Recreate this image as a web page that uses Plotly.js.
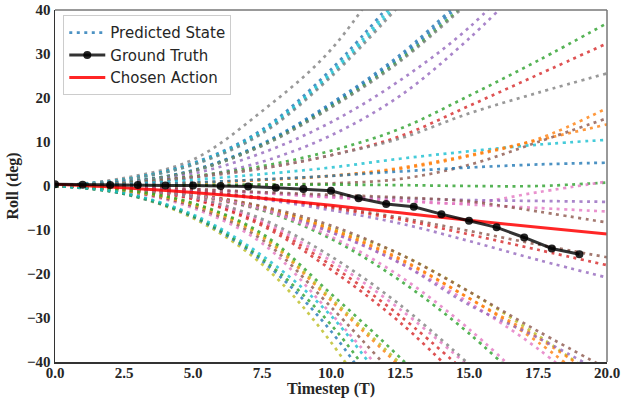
<!DOCTYPE html>
<html>
<head>
<meta charset="utf-8">
<script src="https://cdn.plot.ly/plotly-3.0.1.min.js"></script>
<style>
  html, body { margin: 0; padding: 0; background: #fff; }
  #chart { width: 621px; height: 398px; }
</style>
</head>
<body>
<div id="chart"></div>
<script>
// ---------- data ----------
// timesteps at which the predicted-state curves are sampled
const predT = [0, 2.5, 5, 7.5, 10, 12.5, 15, 17.5, 20];

// predicted roll trajectories (deg); shorter arrays leave the plot at +/-40
const predGrayTop  = [0, 1.8, 6.0, 17.0, 31.0, 53.0];
const predBlueB1   = [0, 1.5, 5.2, 12.8, 26.5, 44.0];
const predCyanB2   = [0, 1.5, 5.0, 12.4, 25.8, 43.0];
const predCyanB3   = [0, 1.4, 4.9, 12.1, 25.2, 42.0];
const predGrayB4   = [0, 1.4, 4.8, 11.9, 24.8, 41.2];
const predBlueC1   = [0, 0.9, 3.6, 9.6, 18.8, 29.8, 44.0];
const predBlueC2   = [0, 0.9, 3.5, 9.4, 18.4, 29.2, 43.2];
const predGreenC3  = [0, 0.8, 3.4, 9.2, 18.0, 28.6, 42.2];
const predGrayC4   = [0, 0.8, 3.4, 9.1, 17.8, 28.3, 41.8];
const predPurple1  = [0, 0.7, 2.8, 7.5, 14.5, 24.0, 36.0, 52.0];
const predPurple2  = [0, 0.5, 2.0, 5.5, 11.5, 20.5, 33.5, 49.0];
const predGreenE   = [0, 0.6, 2.2, 4.5, 8.0, 13.0, 20.5, 28.5, 37.0];
const predRedE     = [0, 0.5, 2.0, 4.0, 7.0, 11.3, 18.2, 25.3, 32.4];
const predGrayE    = [0, 0.5, 2.0, 4.0, 7.0, 10.8, 16.5, 21.2, 25.6];
const predCyanF    = [0, 0.4, 1.4, 2.7, 4.2, 6.2, 7.9, 9.4, 10.5];
const predOrange1  = [0, 0.2, 0.7, 1.4, 2.3, 3.9, 6.8, 10.7, 17.7];
const predOrange2  = [0, 0.2, 0.7, 1.4, 2.3, 4.1, 7.0, 10.4, 14.0];
const predBrown1   = [0, 0.0, 0.1, 0.3, 0.6, 1.6, 4.8, 10.0, 15.4];
const predBlueF    = [0, 0.3, 0.8, 1.5, 2.3, 3.3, 4.2, 4.9, 5.3];
const predGreen0   = [0, 0.0, 0.2, 0.3, 0.3, 0.2, 0.0, 0.0, 0.8];
const predPink1    = [0, -0.2, -0.8, -1.6, -2.6, -3.4, -3.9, -1.4, 1.0];
const predPurpleF  = [0, -0.2, -0.8, -1.5, -2.3, -2.8, -3.2, -3.4, -3.6];
const predPink2    = [0, -0.2, -0.8, -1.6, -2.5, -3.3, -4.2, -5.0, -5.8];
const predBrown2   = [0, -0.2, -0.7, -1.4, -2.0, -2.6, -3.5, -5.8, -8.3];
const predBrown3   = [0, -0.3, -1.1, -2.6, -4.7, -7.2, -10.2, -13.3, -16.2];
const predRed3     = [0, -0.3, -1.2, -2.8, -5.0, -7.6, -11.0, -14.5, -18.0];
const predPurple3  = [0, -0.3, -1.3, -3.0, -5.5, -8.5, -12.5, -16.8, -20.8];
const predPink5    = [0, -0.6, -2.3, -5.5, -10.5, -17.5, -26.5, -37.0, -50.0];
const predOrange5  = [0, -0.6, -2.2, -5.2, -10.0, -16.8, -25.5, -35.5, -48.0];
const predOlive5   = [0, -0.5, -2.0, -4.8, -9.5, -15.5, -24.0, -34.0, -45.0];
const predOrange5b = [0, -0.5, -2.0, -4.8, -9.8, -16.5, -25.5, -34.5, -45.0];
const predPurple5  = [0, -0.5, -2.1, -5.2, -10.5, -17.5, -27.0, -34.5, -43.0];
const predBrown5   = [0, -0.5, -1.9, -4.6, -9.0, -15.5, -24.0, -33.0, -41.5];
const predGreen4   = [0, -0.5, -2.0, -5.5, -12.0, -21.5, -33.5, -48.0];
const predPink4    = [0, -0.5, -2.0, -5.3, -11.5, -20.5, -32.5, -47.0];
const predRed1     = [0, -0.8, -3.0, -9.0, -19.0, -31.0, -46.0];
const predRed2     = [0, -0.8, -2.8, -8.5, -18.0, -29.5, -43.0];
const predPink3    = [0, -0.7, -2.6, -8.0, -17.0, -28.0, -41.0];
const predGray3    = [0, -0.7, -2.5, -7.5, -16.0, -27.0, -40.5];
const predPinkR    = [0, -1.2, -5.0, -13.0, -29.0, -47.0];
const predBrownR   = [0, -1.1, -4.6, -12.2, -27.5, -44.5];
const predOrangeR  = [0, -1.0, -4.2, -11.5, -26.0, -41.0];
const predOliveR   = [0, -1.0, -4.0, -11.2, -25.5, -40.3];
const predGreenR   = [0, -0.9, -3.9, -10.8, -24.5, -39.0, -55.0];
const predOliveB   = [0, -1.8, -7.3, -17.8, -35.5, -60.0];
const predBlueB    = [0, -1.8, -7.0, -17.0, -33.0, -56.0];
const predGreenB   = [0, -1.7, -6.8, -16.5, -31.5, -53.0];
const predCyanB    = [0, -1.6, -6.5, -15.8, -29.5, -50.0];

const predSeries = [
  predGrayTop, predBlueB1, predCyanB2, predCyanB3, predGrayB4,
  predBlueC1, predBlueC2, predGreenC3, predGrayC4, predPurple1, predPurple2,
  predGreenE, predRedE, predGrayE, predCyanF, predOrange1, predOrange2,
  predBrown1, predBlueF, predGreen0, predPink1, predPurpleF, predPink2,
  predBrown2, predBrown3, predRed3, predPurple3, predPink5, predOrange5,
  predOlive5, predOrange5b, predPurple5, predBrown5, predGreen4, predPink4,
  predRed1, predRed2, predPink3, predGray3, predPinkR, predBrownR,
  predOrangeR, predOliveR, predGreenR, predOliveB, predBlueB, predGreenB, predCyanB
];

// ground truth roll at each timestep
const gtT    = [0, 1, 2, 3, 4, 5, 6, 7, 8, 9, 10, 11, 12, 13, 14, 15, 16, 17, 18, 19];
const gtRoll = [0.4, 0.3, 0.2, 0.2, 0.1, 0.1, 0.0, -0.1, -0.4, -0.7, -1.1,
                -2.8, -4.1, -4.7, -6.4, -7.9, -9.4, -11.7, -14.2, -15.5];

// chosen action trajectory
const actT    = [0, 2.5, 5, 7.5, 10, 12.5, 15, 17.5, 20];
const actRoll = [0.4, -0.4, -1.5, -2.8, -4.4, -6.1, -7.8, -9.4, -10.9];

// x tick labels
const xTickVals = [0, 2.5, 5, 7.5, 10, 12.5, 15, 17.5, 20];

// ---------- styles ----------
const tab = {
  blue: '#1f77b4', orange: '#ff7f0e', green: '#2ca02c', red: '#d62728',
  purple: '#9467bd', brown: '#8c564b', pink: '#e377c2', gray: '#7f7f7f',
  olive: '#bcbd22', cyan: '#17becf'
};
const predColorNames = [
  'gray', 'blue', 'cyan', 'cyan', 'gray',
  'blue', 'blue', 'green', 'gray', 'purple', 'purple',
  'green', 'red', 'gray', 'cyan', 'orange', 'orange',
  'brown', 'blue', 'green', 'pink', 'purple', 'pink',
  'brown', 'brown', 'red', 'purple', 'pink', 'orange',
  'olive', 'orange', 'purple', 'brown', 'green', 'pink',
  'red', 'red', 'pink', 'gray', 'pink', 'brown',
  'orange', 'olive', 'green', 'olive', 'blue', 'green', 'cyan'
];

const traces = [];
predSeries.forEach((vals, i) => {
  traces.push({
    x: predT.slice(0, vals.length),
    y: vals,
    type: 'scatter',
    mode: 'lines',
    line: { color: tab[predColorNames[i]], width: 2.7, dash: '3px,4.5px', shape: 'spline', smoothing: 1 },
    opacity: 0.8,
    name: 'Predicted State',
    showlegend: false,
    hoverinfo: 'skip'
  });
});
// legend entry for predicted state
traces.push({
  x: [null], y: [null], type: 'scatter', mode: 'lines',
  line: { color: tab.blue, width: 2.7, dash: '3px,4.5px' }, opacity: 0.8,
  name: 'Predicted State', legendrank: 1
});
traces.push({
  x: actT, y: actRoll, type: 'scatter', mode: 'lines',
  line: { color: 'rgba(255,0,0,0.85)', width: 3, shape: 'spline' },
  name: 'Chosen Action', legendrank: 3
});
traces.push({
  x: gtT, y: gtRoll, type: 'scatter', mode: 'lines+markers',
  line: { color: 'rgba(0,0,0,0.8)', width: 3 },
  marker: { color: 'rgba(0,0,0,0.85)', size: 8 },
  name: 'Ground Truth', legendrank: 2
});

const serif = 'Liberation Serif';
const tickFont = { family: serif, size: 15, color: '#262626', weight: 700 };
const titleFont = { family: serif, size: 16, color: '#262626', weight: 700 };

const layout = {
  width: 621, height: 398,
  margin: { l: 55, r: 14, t: 10, b: 36 },
  paper_bgcolor: '#ffffff', plot_bgcolor: '#ffffff',
  font: { family: serif, size: 15, color: '#262626' },
  showlegend: true,
  legend: {
    x: 0.015, y: 0.985, xanchor: 'left', yanchor: 'top',
    bgcolor: 'rgba(255,255,255,0.85)', bordercolor: '#cccccc', borderwidth: 1,
    font: { family: 'DejaVu Sans', size: 15, color: '#262626' },
    itemwidth: 36,
    traceorder: 'normal'
  },
  xaxis: {
    range: [0, 20], tickvals: xTickVals,
    tickformat: '.1f', showgrid: false, zeroline: false,
    showline: true, linecolor: '#333', linewidth: 1.5,
    ticks: '', ticklen: 0, tickfont: tickFont, ticklabelstandoff: -4,
    title: { text: 'Timestep (T)', font: titleFont, standoff: 0 }
  },
  yaxis: {
    range: [-40, 40], dtick: 10, showgrid: false, zeroline: false,
    showline: true, linecolor: '#333', linewidth: 1.5,
    ticks: '', ticklen: 0, tickfont: tickFont,
    title: { text: 'Roll (deg)', font: titleFont, standoff: 4 }
  },
  shapes: [
    { type: 'line', xref: 'paper', yref: 'paper', x0: 0, x1: 1, y0: 1, y1: 1, line: { color: '#777', width: 1.5 } },
    { type: 'line', xref: 'paper', yref: 'paper', x0: 1, x1: 1, y0: 0, y1: 1, line: { color: '#777', width: 1.5 } }
  ]
};

Plotly.newPlot('chart', traces, layout, { staticPlot: true, displayModeBar: false });
</script>
</body>
</html>
